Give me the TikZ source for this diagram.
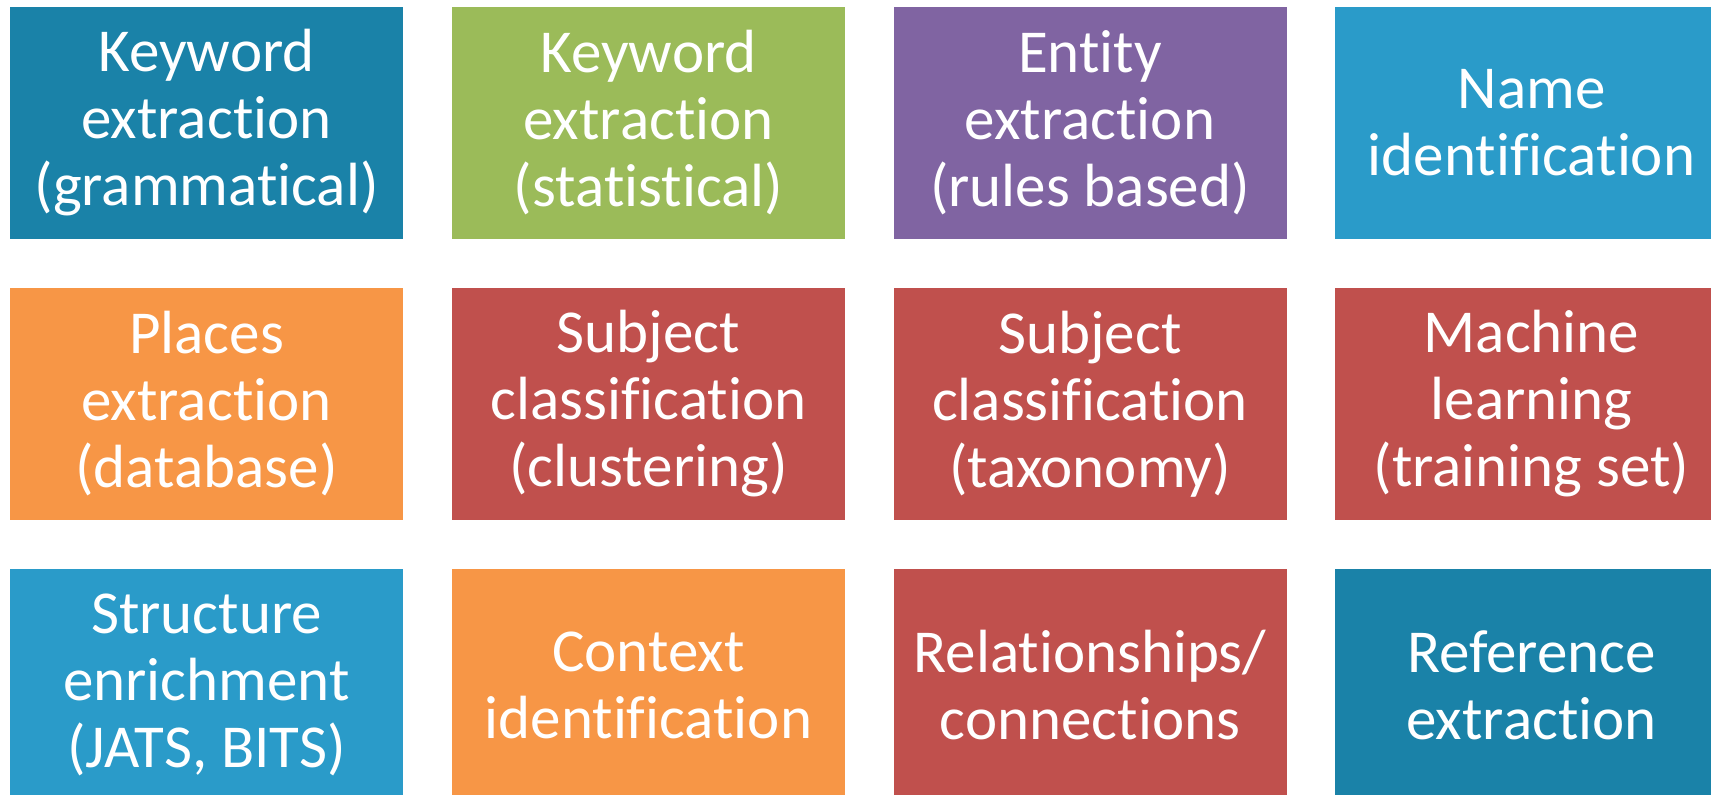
\documentclass[tikz,border=0pt]{standalone}
\usepackage{fontspec}
\setmainfont{Carlito}[Ligatures={NoCommon}]
\definecolor{cdblue}{HTML}{1A82A8}
\definecolor{clblue}{HTML}{2A9BC9}
\definecolor{cgreen}{HTML}{9BBB59}
\definecolor{cpurple}{HTML}{8064A2}
\definecolor{corange}{HTML}{F79646}
\definecolor{cred}{HTML}{C0504D}
\begin{document}
\begin{tikzpicture}[x=1pt,y=-1pt,
  tile/.style={draw=none, minimum width=393pt, minimum height=232pt, text=white,
    align=center, inner sep=0pt, font=\fontsize{61}{67}\selectfont}]
\useasboundingbox (0,0) rectangle (1711,795);
\clip (0,0) rectangle (1711,795);
\node[tile, fill=cdblue]  (a1) at (206.5,123) {Keyword\\extraction\\(grammatical)};
\node[tile, fill=cgreen]  (a2) at (648.5,123) {Keyword\\extraction\\(statistical)};
\node[tile, fill=cpurple] (a3) at (1090,123) {Entity\\extraction\\(rules based)};
\node[tile, fill=clblue]  (a4) at (1531.5,123) {Name\\identification};
\node[tile, fill=corange] (b1) at (206.5,404) {Places\\extraction\\(database)};
\node[tile, fill=cred]    (b2) at (648.5,404) {Subject\\classification\\(clustering)};
\node[tile, fill=cred]    (b3) at (1090,404) {Subject\\classification\\(taxonomy)};
\node[tile, fill=cred]    (b4) at (1531.5,404) {Machine\\learning\\(training set)};
\node[tile, fill=clblue]  (c1) at (206.5,685) {Structure\\enrichment\\(JATS, BITS)};
\node[tile, fill=corange] (c2) at (648.5,685) {Context\\identification};
\node[tile, fill=cred]    (c3) at (1090,685) {Relationships/\\connections};
\node[tile, fill=cdblue]  (c4) at (1531.5,685) {Reference\\extraction};
\end{tikzpicture}
\end{document}
